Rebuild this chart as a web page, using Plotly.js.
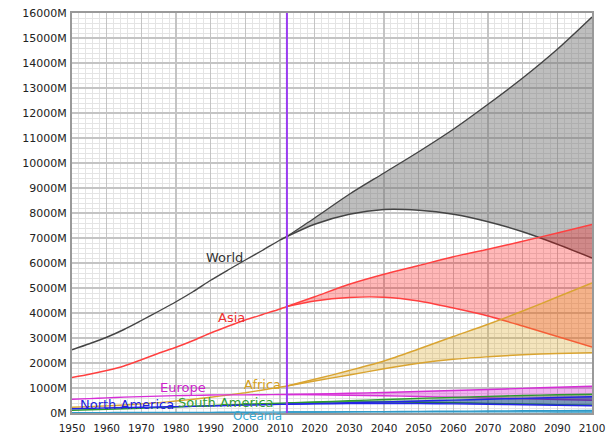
<!DOCTYPE html>
<html>
<head>
<meta charset="utf-8">
<script src="https://cdn.plot.ly/plotly-3.0.1.min.js"></script>
<style>html,body{margin:0;padding:0;background:#fff;}#chart{width:611px;height:434px;}</style>
</head>
<body>
<div id="chart"></div>
<script>
// ---- data ----
const histYears = [1950,1955,1960,1965,1970,1975,1980,1985,1990,1995,2000,2005,2010,2012];
const projYears = [2012,2020,2030,2040,2050,2060,2070,2080,2090,2100];
const baseYear = 2012;

const worldHist   = [2530,2770,3030,3340,3700,4070,4450,4860,5310,5720,6120,6510,6920,7060];
const asiaHist    = [1420,1550,1700,1880,2130,2390,2630,2900,3200,3470,3720,3940,4160,4260];
const africaHist  = [230,255,285,320,365,415,480,550,630,720,810,920,1030,1080];
const europeHist  = [550,575,605,635,655,675,695,705,720,727,727,730,738,740];
const nAmericaHist= [172,187,204,219,231,242,254,267,282,300,315,328,344,350];
const sAmericaHist= [113,130,148,170,192,216,241,268,296,323,349,372,393,401];
const oceaniaHist = [13,14,16,18,20,21,23,25,27,29,31,34,37,38];

const worldHigh   = [7060,7800,8750,9600,10450,11350,12350,13400,14550,15840];
const worldLow    = [7060,7550,7950,8140,8110,7950,7650,7250,6750,6200];
const asiaHigh    = [4260,4650,5150,5550,5900,6250,6550,6870,7200,7540];
const asiaLow     = [4260,4480,4620,4630,4480,4200,3880,3480,3060,2640];
const africaHigh  = [1080,1350,1700,2080,2560,3060,3550,4080,4640,5200];
const africaLow   = [1080,1280,1520,1770,1990,2150,2250,2330,2380,2410];
const europeHigh  = [740,760,790,820,860,900,940,985,1030,1070];
const europeLow   = [740,730,710,690,660,630,600,570,540,510];
const nAmericaHigh= [350,375,410,445,480,515,550,585,620,650];
const nAmericaLow = [350,365,375,380,375,365,350,330,310,290];
const sAmericaHigh= [401,440,490,540,585,625,665,700,730,750];
const sAmericaLow = [401,425,440,440,430,410,385,360,335,310];
const oceaniaHigh = [38,43,50,57,64,72,80,88,95,100];
const oceaniaLow  = [38,41,44,46,47,47,46,45,43,41];

const regionNames = ['World','Asia','Africa','Europe','South America','North America','Oceania'];
const labelX = [1994, 1996, 2005, 1982, 1994.5, 1966, 2003.5];
const labelY = [6240, 3840, 1160, 1040, 440, 360, -100];

// ---- styling ----
const yMax = 16000;
const regions = [
  {hist:worldHist, hi:worldHigh, lo:worldLow, line:'#444444', fill:'rgba(110,110,110,0.45)', text:'#333333', size:13},
  {hist:asiaHist, hi:asiaHigh, lo:asiaLow, line:'#ff4040', fill:'rgba(255,0,0,0.28)', text:'#ee3030', size:13},
  {hist:africaHist, hi:africaHigh, lo:africaLow, line:'#d9a431', fill:'rgba(218,165,32,0.3)', text:'#d4a020', size:13},
  {hist:europeHist, hi:europeHigh, lo:europeLow, line:'#d62ed6', fill:'rgba(204,0,204,0.3)', text:'#cc22cc', size:13},
  {hist:sAmericaHist, hi:sAmericaHigh, lo:sAmericaLow, line:'#2e9a2e', fill:'rgba(0,140,0,0.3)', text:'#33a033', size:13},
  {hist:nAmericaHist, hi:nAmericaHigh, lo:nAmericaLow, line:'#2424e6', fill:'rgba(0,0,200,0.3)', text:'#2222dd', size:13},
  {hist:oceaniaHist, hi:oceaniaHigh, lo:oceaniaLow, line:'#2f9ac8', fill:'rgba(0,150,200,0.3)', text:'#3aa8d0', size:12}
];

const traces = [];
regions.forEach(r => {
  traces.push({x:projYears, y:r.lo, type:'scatter', mode:'lines', line:{color:r.line, width:1.4, shape:'spline', smoothing:0.8}, hoverinfo:'skip'});
  traces.push({x:projYears, y:r.hi, type:'scatter', mode:'lines', fill:'tonexty', fillcolor:r.fill, line:{color:r.line, width:1.4, shape:'spline', smoothing:0.8}, hoverinfo:'skip'});
});
regions.forEach(r => {
  traces.push({x:histYears, y:r.hist, type:'scatter', mode:'lines', line:{color:r.line, width:1.4, shape:'spline', smoothing:0.6}, hoverinfo:'skip'});
});
// projection start marker
traces.push({x:[baseYear, baseYear], y:[0, yMax], type:'scatter', mode:'lines', line:{color:'#9a3cf0', width:2}, hoverinfo:'skip'});

const annotations = regions.map((r,i) => ({
  x: labelX[i], y: labelY[i] / yMax, xref:'x', yref:'paper', text: regionNames[i], showarrow:false,
  font:{family:'DejaVu Sans', size:r.size, color:r.text}, xanchor:'center', yanchor:'middle'
}));

const layout = {
  width:611, height:434,
  margin:{l:72, r:19, t:13, b:21},
  paper_bgcolor:'#ffffff', plot_bgcolor:'#ffffff',
  showlegend:false, hovermode:false,
  font:{family:'DejaVu Sans', size:10.5, color:'#222'},
  xaxis:{
    range:[1950,2100], dtick:10, tick0:1950, showgrid:true, gridcolor:'#c4c4c4', gridwidth:1.5,
    minor:{dtick:2, showgrid:true, gridcolor:'#e4e4e4', gridwidth:1},
    showline:true, mirror:true, linecolor:'#999', linewidth:2, zeroline:false,
    ticks:'', tickfont:{family:'DejaVu Sans', size:10.5, color:'#222'}, ticklabelstandoff:4
  },
  yaxis:{
    range:[0, yMax], dtick:1000, tick0:0, ticksuffix:'M', tickformat:'d', showgrid:true, gridcolor:'#c4c4c4', gridwidth:1.5,
    minor:{dtick:200, showgrid:true, gridcolor:'#e4e4e4', gridwidth:1},
    showline:true, mirror:true, linecolor:'#999', linewidth:2, zeroline:false,
    ticks:'', tickfont:{family:'DejaVu Sans', size:11, color:'#222'}, ticklabelstandoff:1
  },
  annotations: annotations
};

Plotly.newPlot('chart', traces, layout, {staticPlot:true, displayModeBar:false});
</script>
</body>
</html>
